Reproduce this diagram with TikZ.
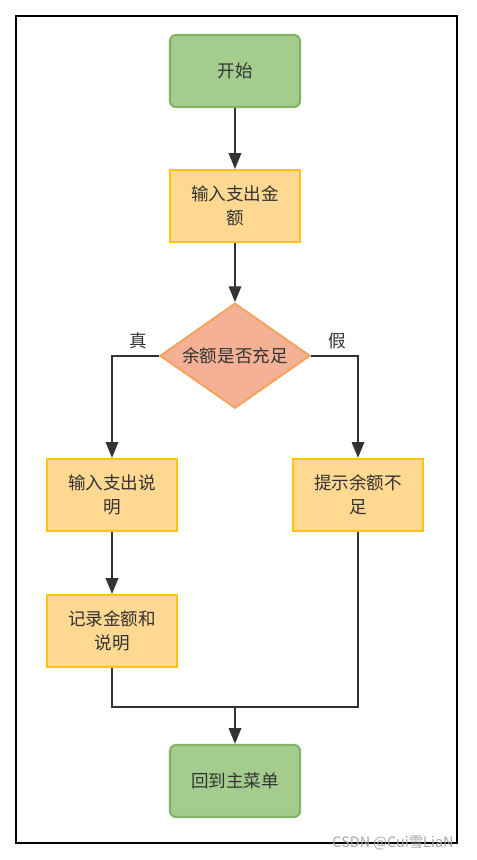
\documentclass[tikz,border=0pt]{standalone}
\usepackage{fontspec}
\setmainfont{Noto Sans CJK SC}
\usetikzlibrary{positioning,shapes.geometric,arrows.meta}

\definecolor{termfill}{RGB}{163,204,142}
\definecolor{termline}{RGB}{130,179,102}
\definecolor{procfill}{RGB}{255,216,145}
\definecolor{procline}{RGB}{255,194,20}
\definecolor{decfill}{RGB}{244,177,150}
\definecolor{decline}{RGB}{245,164,96}
\definecolor{inkgray}{RGB}{51,51,51}

\begin{document}
	\begin{tikzpicture}[
			every node/.style={
				text=inkgray,
				font=\fontsize{10}{13.5}\selectfont
			},
			term/.style={
				draw=termline,
				fill=termfill,
				line width=1.2pt,
				rounded corners=0.12cm,
				minimum width=2.6cm,
				minimum height=1.44cm,
				align=center
			},
			proc/.style={
				draw=procline,
				fill=procfill,
				line width=1.2pt,
				minimum width=2.6cm,
				minimum height=1.44cm,
				align=center
			},
			decision/.style={
				diamond,
				draw=decline,
				fill=decfill,
				line width=1.2pt,
				inner sep=0,
				aspect=1.44,
				minimum width=3cm,
				minimum height=2.1cm
			},
			flow/.style={
				-{Triangle[length=9pt,width=7pt]},
				line width=1.25pt,
				draw=inkgray
			},
			link/.style={
				line width=1.25pt,
				draw=inkgray
			}
		]

		\useasboundingbox (0,0) rectangle (9.52,-17.2);
		\draw [line width=1.35pt] (0.32,-0.32) rectangle (9.14,-16.86);

		\node [term] (start) at (4.70,-1.42) {开始};
		\node [proc, below=1.22cm of start] (amount) {输入支出金\\额};
		\node [decision, below=1.18cm of amount] (enough) {余额是否充足};
		\node [proc] (desc) at (2.24,-9.90) {输入支出说\\明};
		\node [proc] (warn) at (7.16,-9.90) {提示余额不\\足};
		\node [proc, below=1.24cm of desc] (record) {记录金额和\\说明};
		\node [term] (menu) at (4.70,-15.62) {回到主菜单};
		\coordinate (join) at (4.70,-14.14);

		\draw [flow] (start) -- (amount);
		\draw [flow] (amount) -- (enough);
		\draw [flow] (enough.west) -| node [pos=0.22, above] {真} (desc.north);
		\draw [flow] (enough.east) -| node [pos=0.28, above] {假} (warn.north);
		\draw [flow] (desc) -- (record);
		\draw [link] (record.south) |- (join) -| (warn.south);
		\draw [flow] (join) -- (menu);

		\node [text=black!35, font=\fontsize{8.2}{8}\selectfont] (mark) at (7.86,-16.86) {CSDN @Cui雪LiaN};

	\end{tikzpicture}
\end{document}
